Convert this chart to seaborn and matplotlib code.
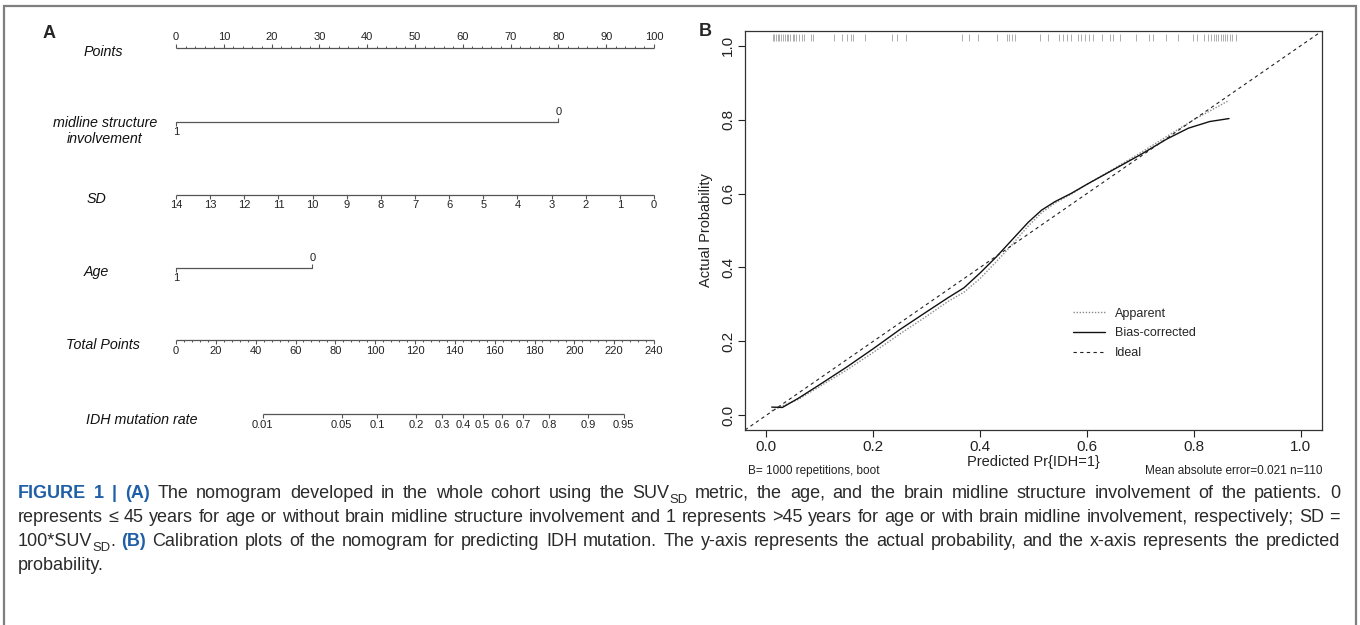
import numpy as np
import pandas as pd
import seaborn as sns
import matplotlib.pyplot as plt
from matplotlib.lines import Line2D
from matplotlib.patches import Rectangle
from matplotlib import transforms

# ---------------- data ----------------
# nomogram (panel A)
points_ticks = [0, 10, 20, 30, 40, 50, 60, 70, 80, 90, 100]
midline_levels = ['1', '0']
midline_points = [0, 80]
sd_values = [14, 13, 12, 11, 10, 9, 8, 7, 6, 5, 4, 3, 2, 1, 0]
sd_max = 14
age_levels = ['1', '0']
age_points = [0, 28.5]
total_ticks = [0, 20, 40, 60, 80, 100, 120, 140, 160, 180, 200, 220, 240]
total_max = 240
idh_rates = [0.01, 0.05, 0.1, 0.2, 0.3, 0.4, 0.5, 0.6, 0.7, 0.8, 0.9, 0.95]
idh_rate_labels = ['0.01', '0.05', '0.1', '0.2', '0.3', '0.4', '0.5', '0.6', '0.7', '0.8', '0.9', '0.95']
idh_total_at_half = 154.0    # total points where predicted rate = 0.5
idh_total_per_logit = 24.05  # total points per unit of linear predictor

# calibration (panel B)
app_pred = [0.010, 0.030, 0.060, 0.100, 0.150, 0.200, 0.250, 0.300, 0.340, 0.370, 0.400, 0.430,
            0.460, 0.490, 0.515, 0.540, 0.570, 0.600, 0.650, 0.700, 0.750, 0.800, 0.866]
app_obs = [0.012, 0.025, 0.043, 0.078, 0.122, 0.170, 0.220, 0.268, 0.308, 0.333, 0.370, 0.415,
           0.462, 0.512, 0.548, 0.574, 0.598, 0.625, 0.667, 0.710, 0.755, 0.800, 0.852]
bc_pred = [0.010, 0.030, 0.060, 0.100, 0.150, 0.200, 0.250, 0.300, 0.340, 0.370, 0.400, 0.430,
           0.460, 0.490, 0.515, 0.540, 0.570, 0.600, 0.650, 0.700, 0.750, 0.790, 0.830, 0.866]
bc_obs = [0.022, 0.021, 0.046, 0.083, 0.130, 0.180, 0.232, 0.280, 0.318, 0.345, 0.385, 0.428,
          0.475, 0.522, 0.555, 0.578, 0.600, 0.625, 0.665, 0.705, 0.748, 0.777, 0.795, 0.803]
rug_pred = [0.012, 0.015, 0.018, 0.021, 0.024, 0.027, 0.031, 0.034, 0.038, 0.041, 0.045, 0.049,
            0.052, 0.056, 0.061, 0.066, 0.071, 0.083, 0.088, 0.127, 0.142, 0.151, 0.158, 0.163,
            0.185, 0.236, 0.244, 0.262, 0.366, 0.379, 0.397, 0.432, 0.451, 0.455, 0.459, 0.466,
            0.513, 0.528, 0.547, 0.556, 0.562, 0.571, 0.583, 0.589, 0.597, 0.604, 0.611, 0.628,
            0.643, 0.649, 0.662, 0.691, 0.716, 0.724, 0.748, 0.771, 0.798, 0.806, 0.819, 0.826,
            0.832, 0.838, 0.842, 0.846, 0.851, 0.855, 0.859, 0.863, 0.867, 0.872, 0.879]

caption_lines = [
    [('FIGURE 1 | (A)', 'b'), (' The nomogram developed in the whole cohort using the SUV', 'n'), ('SD', 's'),
     (' metric, the age, and the brain midline structure involvement of the patients. 0', 'n')],
    [('represents \u2264 45 years for age or without brain midline structure involvement and 1 represents >45 '
      'years for age or with brain midline involvement, respectively; SD =', 'n')],
    [('100*SUV', 'n'), ('SD', 's'), ('. ', 'n'), ('(B)', 'b'),
     (' Calibration plots of the nomogram for predicting IDH mutation. The y-axis represents the actual '
      'probability, and the x-axis represents the predicted', 'n')],
    [('probability.', 'n')],
]

# ---------------- style ----------------
sns.set_theme(style='white')
plt.rcParams['font.family'] = ['Liberation Sans', 'DejaVu Sans']
W, H = 1360, 625
fig = plt.figure(figsize=(W / 100, H / 100), dpi=100)
fig.patch.set_facecolor('white')

# outer frame (open at bottom)
fig.add_artist(Rectangle((4 / W, -0.05), (1356 - 4) / W, 1 - 6 / H + 0.05, transform=fig.transFigure,
                         fill=False, ec='#7f7f7f', lw=1.6))

# ---------------- panel A : nomogram ----------------
scale = (654 - 176) / 100.0          # pixels per point
axA = fig.add_axes([0, 0, 0.5, 1])
axA.set_xlim(-176 / scale, (680 - 176) / scale)
axA.set_ylim(H, 0)
axA.axis('off')
ncol = '#555555'
tick_fs = 8
lab_fs = 10.3


def px2pt(px):
    return (px - 176) / scale


def scale_row(y, xs, labels, up, minor=None):
    axA.plot([min(xs), max(xs)], [y, y], color=ncol, lw=0.9, solid_capstyle='butt')
    d = -1 if up else 1
    axA.vlines(xs, y, y + d * 4, color=ncol, lw=0.8)
    if minor is not None:
        axA.vlines(minor, y, y + d * 2, color=ncol, lw=0.7)
    for x, lab in zip(xs, labels):
        axA.text(x, y + d * 5.5, lab, ha='center', va='bottom' if up else 'top', fontsize=tick_fs, color='#222')


def binary_row(y, pts, levels):
    axA.plot([pts[0], pts[1]], [y, y], color=ncol, lw=0.9)
    # first level below, second above
    axA.vlines([pts[0]], y, y + 4, color=ncol, lw=0.8)
    axA.text(pts[0], y + 5, levels[0], ha='center', va='top', fontsize=tick_fs, color='#222')
    axA.vlines([pts[1]], y, y - 4, color=ncol, lw=0.8)
    axA.text(pts[1], y - 5, levels[1], ha='center', va='bottom', fontsize=tick_fs, color='#222')


row_y = {'points': 48, 'midline': 122, 'sd': 195, 'age': 268, 'total': 340, 'idh': 414}

# Points
pt_minor = [v for v in np.arange(0, 101, 2) if v % 10 != 0]
scale_row(row_y['points'], points_ticks, [str(v) for v in points_ticks], up=True, minor=pt_minor)
# midline
binary_row(row_y['midline'], midline_points, midline_levels)
# SD
sd_pts = [(sd_max - v) / sd_max * 100 for v in sd_values]
scale_row(row_y['sd'], sd_pts, [str(v) for v in sd_values], up=False)
# Age
binary_row(row_y['age'], age_points, age_levels)
# Total points
tp_to_pt = 100.0 / total_max
tot_minor = [v * tp_to_pt for v in np.arange(0, total_max + 1, 4) if v % 20 != 0]
scale_row(row_y['total'], [v * tp_to_pt for v in total_ticks], [str(v) for v in total_ticks], up=False,
          minor=tot_minor)
# IDH mutation rate
rates = np.array(idh_rates)
idh_tp = idh_total_at_half + idh_total_per_logit * np.log(rates / (1 - rates))
scale_row(row_y['idh'], list(idh_tp * tp_to_pt), idh_rate_labels, up=False)

# row titles
titles = [('Points', 103, 52), ('midline structure\ninvolvement', 105, 131), ('SD', 96, 199),
          ('Age', 96, 272), ('Total Points', 103, 345), ('IDH mutation rate', 142, 420)]
for txt, cx, cy in titles:
    axA.text(px2pt(cx), cy, txt, ha='center', va='center', fontsize=lab_fs, style='italic',
             color='#111', linespacing=1.15)

fig.text(49 / W, 1 - 34 / H, 'A', fontsize=13, fontweight='bold', ha='center', va='center')
fig.text(705 / W, 1 - 31 / H, 'B', fontsize=13, fontweight='bold', ha='center', va='center')

# ---------------- panel B : calibration ----------------
axB = fig.add_axes([745 / W, 1 - 430 / H, (1322 - 745) / W, (430 - 31) / H])
cal = pd.concat([
    pd.DataFrame({'pred': app_pred, 'obs': app_obs, 'curve': 'Apparent'}),
    pd.DataFrame({'pred': bc_pred, 'obs': bc_obs, 'curve': 'Bias-corrected'}),
], ignore_index=True)
sns.lineplot(data=cal, x='pred', y='obs', hue='curve', style='curve',
             palette={'Apparent': '#8a8a8a', 'Bias-corrected': '#111111'},
             dashes={'Apparent': (1, 1.2), 'Bias-corrected': ''},
             estimator=None, sort=False, lw=1.0, legend=False, ax=axB)
axB.axline((0, 0), (1, 1), color='#222', lw=0.8, ls=(0, (3, 3)))

rug_tr = transforms.blended_transform_factory(axB.transData, axB.transAxes)
axB.vlines(rug_pred, 0.975, 0.992, transform=rug_tr, color='#a0a0a0', lw=0.6)

axB.set_xlim(-0.04, 1.04)
axB.set_ylim(-0.04, 1.04)
ticks = [0, 0.2, 0.4, 0.6, 0.8, 1.0]
axB.set_xticks(ticks)
axB.set_yticks(ticks)
axB.set_xticklabels([f'{t:.1f}' for t in ticks])
axB.set_yticklabels([f'{t:.1f}' for t in ticks], rotation=90, va='center')
axB.tick_params(direction='out', length=5, width=0.8, labelsize=11, colors='#222', left=True, bottom=True)
axB.tick_params(axis='y', pad=2)
axB.tick_params(axis='x', pad=2)
axB.set_xlabel('')
axB.set_ylabel('')
for s in axB.spines.values():
    s.set_color('#333')
    s.set_linewidth(0.9)

axB.text(-0.0676, 0.5, 'Actual Probability', transform=axB.transAxes, rotation=90,
         ha='center', va='center', fontsize=10.5, color='#222')
axB.text(0.5, -0.080, 'Predicted Pr{IDH=1}', transform=axB.transAxes, ha='center', va='center',
         fontsize=10.5, color='#222')
axB.text(0.005, -0.102, 'B= 1000 repetitions, boot', transform=axB.transAxes, ha='left', va='center',
         fontsize=8.5, color='#222')
axB.text(1.0, -0.102, 'Mean absolute error=0.021 n=110', transform=axB.transAxes, ha='right', va='center',
         fontsize=8.5, color='#222')

handles = [Line2D([], [], color='#8a8a8a', lw=1.0, ls=(0, (1, 1.2))),
           Line2D([], [], color='#111111', lw=1.0),
           Line2D([], [], color='#222', lw=0.8, ls=(0, (3, 3)))]
axB.legend(handles, ['Apparent', 'Bias-corrected', 'Ideal'], loc='upper left',
           bbox_to_anchor=(0.569, 0.307), frameon=False, fontsize=9, handlelength=2.5,
           handletextpad=0.85, labelspacing=0.62, borderpad=0, borderaxespad=0)

# ---------------- caption ----------------
renderer = fig.canvas.get_renderer()
cap_left, cap_right = 18, 1340
cap_y = [498, 522, 546, 570]
cap_fs = 10.0


def make_styles(fs):
    return {'n': dict(color='#2a2a2a', fontsize=fs),
            'b': dict(color='#1f5fa6', fontsize=fs, fontweight='bold'),
            's': dict(color='#2a2a2a', fontsize=fs * 0.72)}


styles = make_styles(cap_fs)


def text_w(s, st):
    t = fig.text(0, 0, s, **styles[st])
    w = t.get_window_extent(renderer).width
    t.remove()
    return w


def split_words(runs):
    words, cur = [], []
    for txt, st in runs:
        parts = txt.split(' ')
        for k, p in enumerate(parts):
            if k > 0:
                if cur:
                    words.append(cur)
                cur = []
            if p:
                cur.append((p, st))
    if cur:
        words.append(cur)
    return words


def natural_width(words):
    sp = text_w('a a', 'n') - text_w('aa', 'n')
    return sum(text_w(s, st) for w in words for s, st in w) + sp * (len(words) - 1)


# pick the caption font size so the longest line just fits the frame
longest = split_words(caption_lines[1])
cap_fs = cap_fs * (cap_right - cap_left - 8) / natural_width(longest)
styles = make_styles(cap_fs)
space_w = text_w('a a', 'n') - text_w('aa', 'n')

for li, runs in enumerate(caption_lines):
    words = split_words(runs)
    widths = [[text_w(s, st) for s, st in w] for w in words]
    natural = sum(sum(w) for w in widths) + space_w * (len(words) - 1)
    last = li == len(caption_lines) - 1
    gap = space_w if last else (cap_right - cap_left - natural) / (len(words) - 1) + space_w
    x = cap_left
    base = H - cap_y[li]
    for w, ws in zip(words, widths):
        for (s, st), sw in zip(w, ws):
            yb = base - (cap_fs * 0.35 if st == 's' else 0)
            fig.text(x / W, yb / H, s, va='baseline', ha='left', **styles[st])
            x += sw
        x += gap

fig.savefig('out.png', dpi=100)
